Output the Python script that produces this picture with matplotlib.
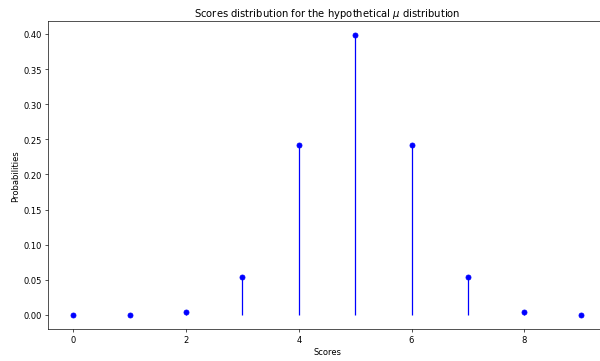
import matplotlib
matplotlib.use('Agg')
import matplotlib.pyplot as plt

# scores e probabilidades
scores = [0, 1, 2, 3, 4, 5, 6, 7, 8, 9]
probs = [0.0000015, 0.000134, 0.00443, 0.0540, 0.2420, 0.3989, 0.2420, 0.0540, 0.00443, 0.000134]

fig = plt.figure(figsize=(10, 6.033), dpi=60)
ax = fig.add_axes([0.08, 0.0884, 0.93, 0.8516])
ax.plot(scores, probs, 'bo')
ax.vlines(scores, 0, probs, colors='b')
ax.set_xticks([0, 2, 4, 6, 8])
ax.set_title(r'Scores distribution for the hypothetical $\mu$ distribution')
ax.set_xlabel('Scores')
ax.set_ylabel('Probabilities')
fig.savefig('out.png', dpi=60)
